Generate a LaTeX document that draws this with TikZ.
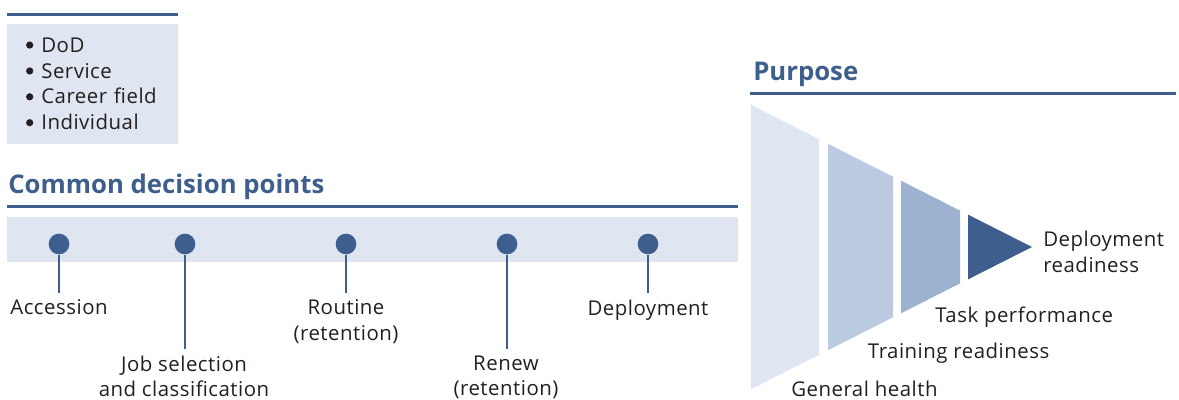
\documentclass[tikz,border=0pt]{standalone}
\usepackage{fontspec}
\setmainfont{Open Sans}
\newfontfamily\bodyfont[LetterSpace=2.5]{Open Sans}
\usepackage{xcolor}
\usepackage{tikz}
\usetikzlibrary{positioning}

\definecolor{navy}{HTML}{3E5F8E}
\definecolor{pale}{HTML}{DFE6F1}
\definecolor{mid}{HTML}{BBCAE1}
\definecolor{deep}{HTML}{9DB1D1}
\definecolor{ink}{HTML}{231F20}

\newcommand{\levelbullet}{\tikz[baseline=-5.3pt]\fill[ink] (0,0) circle (2.7pt);\hspace{6pt}}

\begin{document}
\begin{tikzpicture}[x=0.75pt, y=-0.75pt,
        heading/.style={anchor=base west, inner sep=0, text=navy, font=\fontsize{19.3}{23}\selectfont\bfseries},
        hrule/.style={navy, line width=2pt},
        milestone/.style={circle, fill=navy, minimum size=15.5pt, inner sep=0},
        stem/.style={navy, line width=2pt},
        pointlabel/.style={anchor=north, align=center, inner sep=5pt, text=ink, font=\bodyfont\fontsize{15.3}{19}\selectfont},
        tierlabel/.style={anchor=base west, inner sep=0, text=ink, font=\bodyfont\fontsize{15.3}{19.5}\selectfont}]
        \useasboundingbox (0,0) rectangle (1179,400);

        % Levels
        \draw[hrule] (7,14.5) -- (178,14.5);
        \node[fill=pale, anchor=north west, minimum width=128.25pt, minimum height=90pt,
              inner xsep=14pt, text width=100pt, align=left, text=ink,
              font=\bodyfont\fontsize{15.3}{19.4}\selectfont] (levels) at (7,23.5) {
            \levelbullet DoD\\
            \levelbullet Service\\
            \levelbullet Career~field\\
            \levelbullet Individual
        };

        % Common decision points
        \node[heading] (decisions) at (8,193.3) {Common decision points};
        \draw[hrule] (7,206.3) -- (738,206.3);
        \fill[pale] (7,217.3) rectangle (738,261.7);

        \node[milestone] (acc) at (59,244) {};
        \node[milestone] (job) at (185,244) {};
        \node[milestone] (routine) at (346,244) {};
        \node[milestone] (renew) at (507,244) {};
        \node[milestone] (deploy) at (648,244) {};

        \node[pointlabel] (accL) at (59,293) {Accession};
        \node[pointlabel] (jobL) at (184,349) {Job selection\\and classification};
        \node[pointlabel] (routineL) at (346,293) {Routine\\(retention)};
        \node[pointlabel] (renewL) at (506,349) {Renew\\(retention)};
        \node[pointlabel] (deployL) at (648,293) {Deployment};

        \draw[stem] (acc) -- (acc |- accL.north);
        \draw[stem] (job) -- (job |- jobL.north);
        \draw[stem] (routine) -- (routineL);
        \draw[stem] (renew) -- (renew |- renewL.north);
        \draw[stem] (deploy) -- (deployL);

        % Purpose: funnel
        \node[heading] (purpose) at (753,80.7) {Purpose};
        \draw[hrule] (750,93.5) -- (1176,93.5);

        \fill[pale] (751,104.8) -- (819,139.2) -- (819,354.8) -- (751,389.2) -- cycle;
        \fill[mid] (828,143.8) -- (893,176.7) -- (893,317.3) -- (828,350.2) -- cycle;
        \fill[deep] (901,180.7) -- (960,210.6) -- (960,283.4) -- (901,313.3) -- cycle;
        \fill[navy] (968,214.6) -- (1032,247) -- (968,279.4) -- cycle;

        \node[tierlabel] (health) at (791,396) {General health};
        \node[tierlabel] (training) at (867.7,358.5) {Training readiness};
        \node[tierlabel] (task) at (935,322.5) {Task performance};
        \node[tierlabel, anchor=north west, align=left] (ready) at (1043,231) {Deployment\\readiness};
    \end{tikzpicture}
\end{document}
